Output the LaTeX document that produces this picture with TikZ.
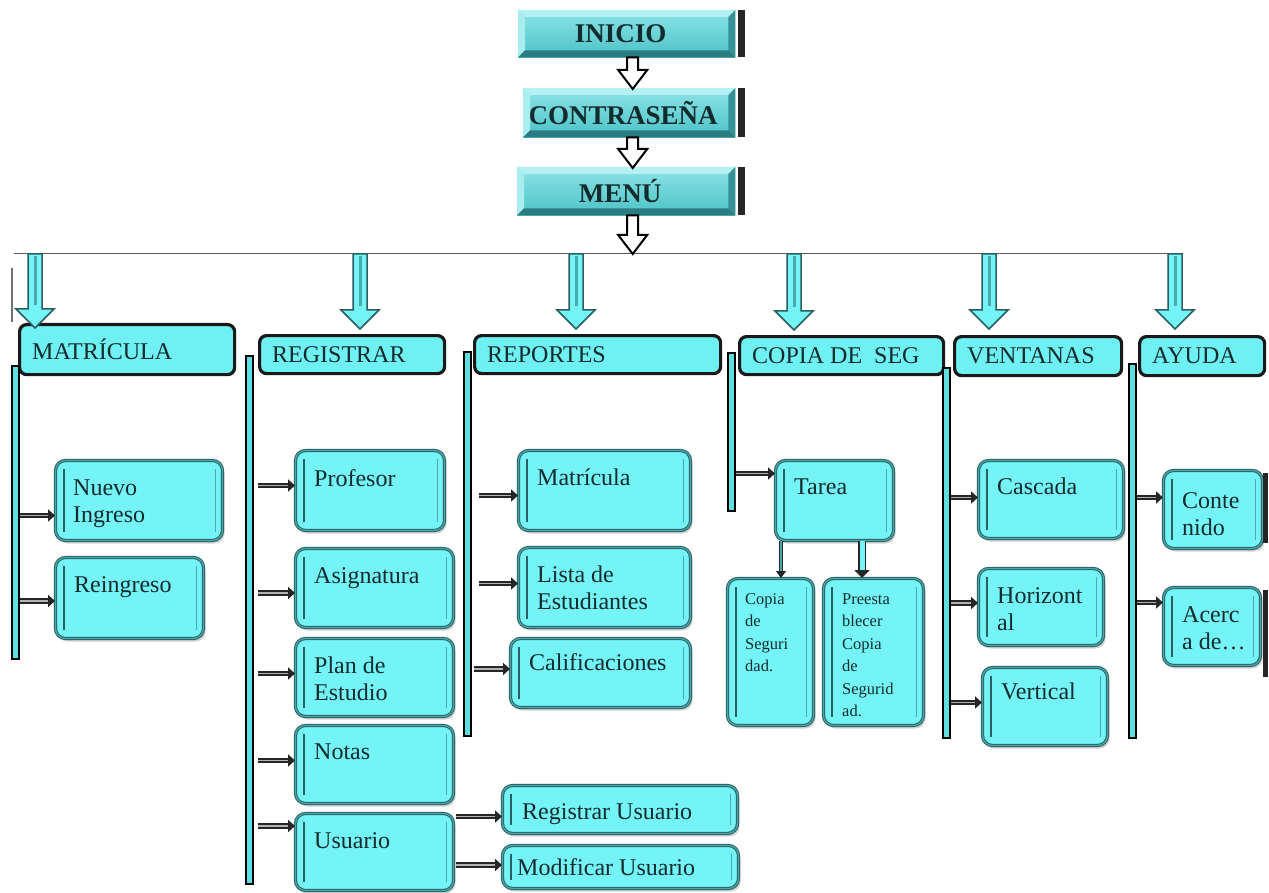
\documentclass[tikz,border=0pt]{standalone}
\usepackage{fontspec}
\setmainfont{Liberation Serif}
\usetikzlibrary{calc,arrows.meta,shadows}

\definecolor{boxcyan}{HTML}{74F4F7}
\definecolor{headcyan}{HTML}{6FF0F3}
\definecolor{edgeteal}{HTML}{2A5F61}
\definecolor{midteal}{HTML}{4AA9AC}
\definecolor{inktext}{HTML}{122B2C}
\definecolor{facetop}{HTML}{8CE4E7}
\definecolor{facebot}{HTML}{4CC2C6}
\definecolor{bevellight}{HTML}{B5F1F3}
\definecolor{beveldark}{HTML}{2B7C80}

\tikzset{
  cbox/.style={anchor=north west, inner sep=0pt, fill=boxcyan, draw=edgeteal,
    line width=1pt, double=midteal, double distance=1.2pt, rounded corners=10pt,
    drop shadow={shadow xshift=2pt, shadow yshift=-3pt, opacity=0.35, fill=gray}},
  clabel/.style={anchor=north west, inner sep=0pt, align=left, xshift=19pt,
    yshift=-19pt, text=inktext, font=\fontsize{24}{27}\selectfont},
  smalltext/.style={font=\fontsize{16.5}{22.5}\selectfont},
  innerl/.style={draw=edgeteal, line width=1.2pt},
  innerr/.style={draw=midteal, line width=0.9pt},
  hdr/.style={anchor=north west, inner sep=0pt, fill=headcyan, draw=black!90,
    line width=3.2pt, rounded corners=7pt},
  hlabel/.style={anchor=west, inner sep=0pt, xshift=14pt, text=inktext,
    font=\fontsize{24}{27}\selectfont},
  vbar/.style={anchor=north west, inner sep=0pt, minimum width=7pt,
    fill=headcyan!85!teal, draw=black, line width=1.5pt},
  link/.style={draw=black!85, line width=1.9pt, double=gray!60,
    double distance=1.8pt, -{Triangle[length=7pt,width=12pt]}},
  topface/.style={anchor=north west, inner sep=0pt, top color=facetop,
    bottom color=facebot, draw=none},
  toptext/.style={inner sep=0pt, xshift=-6pt, text=inktext,
    font=\bfseries\fontsize{27}{30}\selectfont},
  toparrow/.style={fill=white, draw=black, line width=2pt, line join=miter},
  droparrow/.style={fill=boxcyan, draw=edgeteal, line width=1.5pt, line join=miter},
  spine/.style={draw=black!65, line width=1pt}
}

% child box: [label options]{name}{x}{y}{w}{h}{text}
\newcommand\cbox[7][]{%
  \node[cbox, minimum width=#5pt, minimum height=#6pt,
        label={[clabel,#1]north west:{#7}}] (#2) at (#3,#4) {};
  \draw[innerl] ($(#2.north west)+(9,9)$) -- ($(#2.south west)+(9,-9)$);
  \draw[innerr] ($(#2.north east)+(-8,9)$) -- ($(#2.south east)+(-8,-9)$);
}
% menu header: {name}{x}{y}{w}{h}{text}
\newcommand\headbox[6]{%
  \node[hdr, minimum width=#4pt, minimum height=#5pt,
        label={[hlabel]west:{#6}}] (#1) at (#2,#3) {};
}
% bevelled top box: {name}{x}{y}{w}{h}{text}
\newcommand\bevelbox[6]{%
  \node[topface, minimum width=#4pt, minimum height=#5pt,
        label={[toptext]center:{#6}}] (#1) at (#2,#3) {};
  \fill[bevellight] (#1.north west) -- (#1.north east) -- ($(#1.north east)+(-7,7)$)
       -- ($(#1.north west)+(7,7)$) -- cycle;
  \fill[bevellight!70!facetop] (#1.north west) -- ($(#1.north west)+(7,7)$)
       -- ($(#1.south west)+(7,-7)$) -- (#1.south west) -- cycle;
  \fill[beveldark] (#1.south west) -- (#1.south east) -- ($(#1.south east)+(-7,-7)$)
       -- ($(#1.south west)+(7,-7)$) -- cycle;
  \fill[beveldark!70!facebot] (#1.north east) -- (#1.south east)
       -- ($(#1.south east)+(-7,-7)$) -- ($(#1.north east)+(-7,7)$) -- cycle;
  \fill[black!85] ($(#1.north east)+(3,0)$) rectangle ($(#1.south east)+(10,0)$);
}
% wide downward arrow: [style]{start}{target}{extra depth}
\newcommand\fatarrow[4][]{%
  \path (#2) coordinate (fa-s);
  \path ($(fa-s |- #3)+(0,#4)$) coordinate (fa-t);
  \filldraw[#1] ($(fa-s)+(-\fash,0)$) -- ($(fa-t)+(-\fash,-\fahl)$)
     -- ($(fa-t)+(-\fahh,-\fahl)$) -- (fa-t) -- ($(fa-t)+(\fahh,-\fahl)$)
     -- ($(fa-t)+(\fash,-\fahl)$) -- ($(fa-s)+(\fash,0)$) -- cycle;
}
% short feed arrow: [start offset]{from}{to box}{dy}
\newcommand\feed[4][0]{%
  \path ($(#3.west)+(0,#4)$) coordinate (fd-e);
  \draw[link] ($(fd-e -| #2.east)+(#1,0)$) -- (fd-e);
}

\begin{document}
\begin{tikzpicture}[x=1pt, y=-1pt]
\useasboundingbox (0,0) rectangle (1269,893);
\fill[white] (0,0) rectangle (1269,893);

% soft shadow band behind the menu headers
\shade[top color=white, middle color=gray!25, bottom color=white]
  (0,292) rectangle (1252,408);

% start sequence
\bevelbox{inicio}{518}{10}{217}{47}{INICIO}
\bevelbox{contra}{523}{88}{212}{49}{CONTRASEÑA}
\bevelbox{menu}{517}{167}{218}{48}{MENÚ}

% distribution line
\coordinate (hl-w) at (14,254);
\coordinate (hl-e) at (1183,254);
\coordinate (hub) at (632,254);
\draw[spine] (hl-w) -- (hl-e);
\coordinate (le1) at (12,268);
\coordinate (le2) at (12,322);
\draw[spine, draw=black!55, line width=1.2pt] (le1) -- (le2);

\def\fash{5.5}\def\fahh{14.5}\def\fahl{19}
\fatarrow[toparrow]{$(inicio.south)+(6,0)$}{contra.north}{1}
\fatarrow[toparrow]{$(contra.south)+(3.5,0)$}{menu.north}{1}
\fatarrow[toparrow]{$(menu.south)+(6.5,0)$}{hub}{0}

% menu headers
\headbox{hmat}{18}{323}{215}{50}{MATRÍCULA}
\headbox{hreg}{258}{334}{185}{38}{REGISTRAR}
\headbox{hrep}{473}{334}{246}{38}{REPORTES}
\headbox{hcop}{738}{335}{204}{38}{COPIA DE\ \ SEG}
\headbox{hven}{953}{335}{167}{39}{VENTANAS}
\headbox{hayu}{1138}{335}{125}{39}{AYUDA}

% drops from the distribution line
\coordinate (d1) at (35,254);
\coordinate (d2) at (360,254);
\coordinate (d3) at (576,254);
\coordinate (d4) at (794,254);
\coordinate (d5) at (989,254);
\coordinate (d6) at (1175,254);
\def\fash{7}\def\fahh{19}\def\fahl{19}
\foreach \d/\h/\o in {d1/hmat/5, d2/hreg/-5, d3/hrep/-5, d4/hcop/-5, d5/hven/-6, d6/hayu/-6}{
  \fatarrow[droparrow]{\d}{\h.north}{\o}
  \draw[midteal, line width=3pt] ($(fa-s)+(0,2)$) -- ($(fa-t)+(0,-\fahl-4)$);
}

% column bars
\node[vbar, minimum height=293pt] (bmat) at (11,365) {};
\node[vbar, minimum height=528pt] (breg) at (245,355) {};
\node[vbar, minimum height=384pt] (brep) at (463,351) {};
\node[vbar, minimum height=158pt] (bcop) at (727,352) {};
\node[vbar, minimum height=370pt] (bven) at (942,367) {};
\node[vbar, minimum height=374pt] (bayu) at (1128,363) {};

% MATRICULA
\cbox[xshift=-1pt, yshift=-1pt]{nuevo}{55}{460}{167}{80}{Nuevo\\Ingreso}
\cbox{reing}{55}{557}{148}{81}{Reingreso}
% REGISTRAR
\cbox{prof}{295}{450}{149}{80}{Profesor}
\cbox{asig}{295}{548}{158}{79}{Asignatura}
\cbox{plan}{295}{638}{158}{78}{Plan de\\Estudio}
\cbox{notas}{295}{725}{158}{78}{Notas}
\cbox{usua}{295}{813}{158}{77}{Usuario}
\cbox[yshift=1pt, xshift=1pt]{regu}{502}{785}{235}{48}{Registrar Usuario}
\cbox[yshift=6pt, xshift=-4pt]{modu}{502}{845}{236}{43}{Modificar Usuario}
% REPORTES
\cbox{rmat}{518}{450}{172}{80}{Matrícula}
\cbox{lista}{518}{547}{172}{80}{Lista de\\Estudiantes}
\cbox[yshift=4pt]{calif}{510}{638}{180}{69}{Calificaciones}
% COPIA DE SEG
\cbox{tarea}{775}{460}{118}{80}{Tarea}
\cbox[smalltext, yshift=4pt, xshift=-1pt]{copia}{727}{578}{86}{147}{Copia\\de\\Seguri\\dad.}
\cbox[smalltext, yshift=4pt]{prees}{823}{578}{100}{147}{Preesta\\blecer\\Copia\\de\\Segurid\\ad.}
% VENTANAS
\cbox[yshift=1pt]{casc}{978}{460}{145}{78}{Cascada}
\cbox{horiz}{978}{568}{125}{77}{Horizont\\al}
\cbox[yshift=3pt]{vert}{982}{667}{125}{78}{Vertical}
% AYUDA
\cbox[yshift=-3pt]{conte}{1163}{470}{99}{78}{Conte\\nido}
\cbox{acerca}{1163}{587}{97}{78}{Acerc\\a de\ldots}
\fill[black!85] (1263,473) rectangle (1268,543);
\fill[black!85] (1263,590) rectangle (1268,677);

% feed arrows
\feed{bmat}{nuevo}{15}
\feed{bmat}{reing}{3}
\feed[4]{breg}{prof}{-5}
\feed[4]{breg}{asig}{5}
\feed[4]{breg}{plan}{-4}
\feed[4]{breg}{notas}{-4}
\feed[4]{breg}{usua}{-26}
\feed[2]{usua}{regu}{7}
\feed[2]{usua}{modu}{-2}
\feed[7]{brep}{rmat}{5}
\feed[7]{brep}{lista}{-4}
\feed[2]{brep}{calif}{-4}
\feed{bcop}{tarea}{-27}
\feed{bven}{casc}{-2}
\feed{bven}{horiz}{-4}
\feed{bven}{vert}{-4}
\feed{bayu}{conte}{-12}
\feed{bayu}{acerca}{-24}

% task sub-arrows
\path ($(tarea.south west)+(6,0)$) coordinate (tk1);
\path ($(tarea.south west)+(87,0)$) coordinate (tk2);
\draw[link, line width=1.2pt, double=midteal, double distance=2.5pt,
      -{Triangle[length=7pt,width=10pt]}] (tk1) -- (tk1 |- copia.north);
\draw[link, double=boxcyan, double distance=5pt,
      -{Triangle[length=8pt,width=15pt]}] (tk2) -- (tk2 |- prees.north);
\end{tikzpicture}
\end{document}
